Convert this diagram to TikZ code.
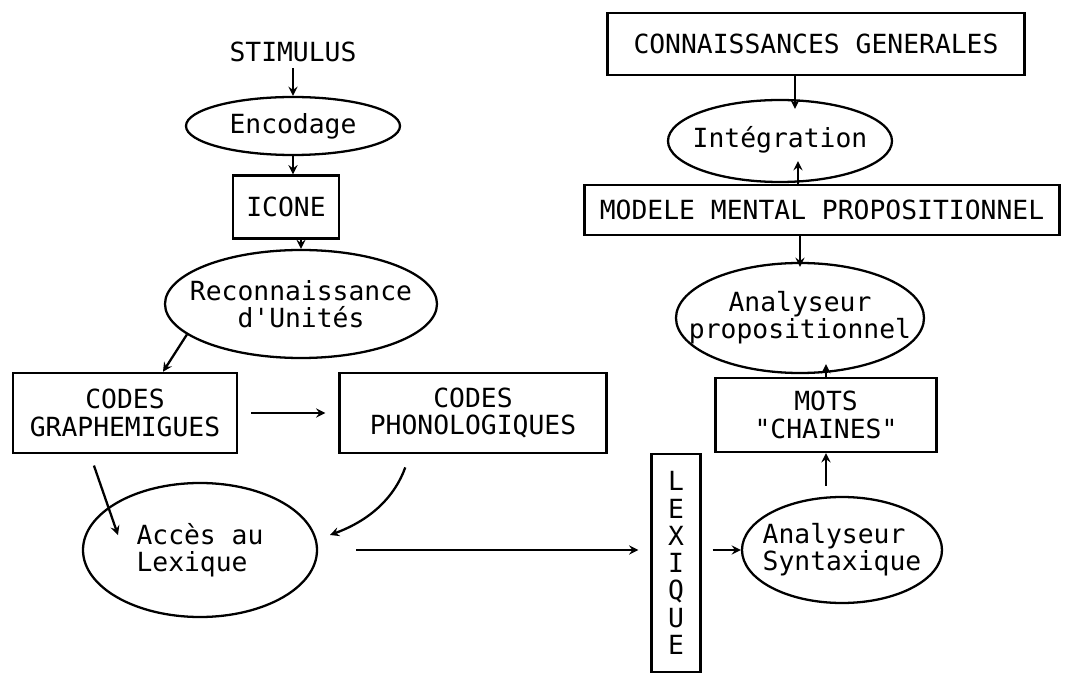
\documentclass[tikz,border=0pt]{standalone}
\usepackage{fontspec}
\setmonofont{DejaVu Sans Mono}
\usetikzlibrary{arrows, shapes.geometric, positioning}

\begin{document}
\begin{tikzpicture}[font=\ttfamily\fontsize{15}{15.5}\selectfont, >=stealth,
    box/.style={draw, line width=1.4pt, inner sep=2pt, align=center},
    oval/.style={draw, ellipse, line width=1.3pt, inner xsep=-1cm, inner ysep=0pt, align=center},
    link/.style={->, line width=1.3pt}]
          \useasboundingbox (0,0) rectangle (21.44,13.5);

          % Nodes
          \node (stim) at (5.86, 12.46) {STIMULUS};
          \node[oval, minimum width=4.28cm, minimum height=1.16cm] (enc) at (5.86, 10.98) {Encodage};
          \node[box, minimum width=2.12cm, minimum height=1.26cm] (icone) at (5.72, 9.36) {ICONE};
          \node[oval, minimum width=5.44cm, minimum height=2.16cm] (reco) at (6.02, 7.42) {Reconnaissance\\d'Unités};
          \node[box, minimum width=4.48cm, minimum height=1.6cm] (graph) at (2.5, 5.24) {CODES\\GRAPHEMIGUES};
          \node[box, minimum width=5.34cm, minimum height=1.6cm] (phon) at (9.46, 5.24) {CODES\\PHONOLOGIQUES};
          \node[oval, align=left, minimum width=4.68cm, minimum height=2.68cm] (acces) at (4.0, 2.5) {Accès au\\Lexique};
          \node[box, minimum width=0.98cm, minimum height=4.36cm] (lex) at (13.52, 2.24) {L\\E\\X\\I\\Q\\U\\E};
          \node[oval, align=left, minimum width=4.0cm, minimum height=2.12cm] (synt) at (16.84, 2.5) {Analyseur\\Syntaxique};
          \node[box, minimum width=4.42cm, minimum height=1.48cm] (mots) at (16.52, 5.2) {MOTS\\"CHAINES"};
          \node[oval, minimum width=4.96cm, minimum height=2.2cm] (prop) at (16.0, 7.14) {Analyseur\\propositionnel};
          \node[box, minimum width=9.5cm, minimum height=1.0cm] (modele) at (16.44, 9.3) {MODELE MENTAL PROPOSITIONNEL};
          \node[oval, minimum width=4.48cm, minimum height=1.64cm] (integ) at (15.6, 10.68) {\raisebox{0.16cm}{Intégration}};
          \node[box, minimum width=8.34cm, minimum height=1.24cm] (conn) at (16.32, 12.62) {CONNAISSANCES GENERALES};

          % Edges
          \draw[link] (stim) -- (enc);
          \draw[link] (enc.south) -- (enc.south |- icone.north);
          \draw[link] (icone.south -| reco.north) -- (reco.north);
          \draw[link] (reco.195) -- ([xshift=0.76cm]graph.north);
          \draw[link, shorten >=0.26cm, shorten <=0.26cm] (graph) -- (phon);
          \draw[link, shorten <=0.24cm] ([xshift=-0.7cm]graph.south) -- ([xshift=-1.64cm, yshift=0.3cm]acces.center);
          \draw[link, shorten <=0.28cm] ([xshift=-1.26cm]phon.south) to[bend left=25] ([xshift=2.6cm, yshift=0.3cm]acces.center);
          \draw[link, shorten <=0.76cm, shorten >=0.24cm] (acces.east) -- (acces.east -| lex.west);
          \draw[link, shorten <=0.22cm] (lex.east |- synt.west) -- (synt.west);
          \draw[link, shorten <=0.2cm] (mots.south |- synt.north) -- (mots.south);
          \draw[link] (mots.north) -- ([yshift=0.2cm]mots.north |- prop.south);
          \draw[link] (prop.north |- modele.south) -- ([yshift=-0.1cm]prop.north);
          \draw[link] ([xshift=0.36cm]integ.south |- modele.north) -- ([xshift=0.36cm, yshift=0.44cm]integ.south);
          \draw[link] ([xshift=0.3cm]integ.north |- conn.south) -- ([xshift=0.3cm, yshift=-0.2cm]integ.north);

        \end{tikzpicture}
\end{document}
